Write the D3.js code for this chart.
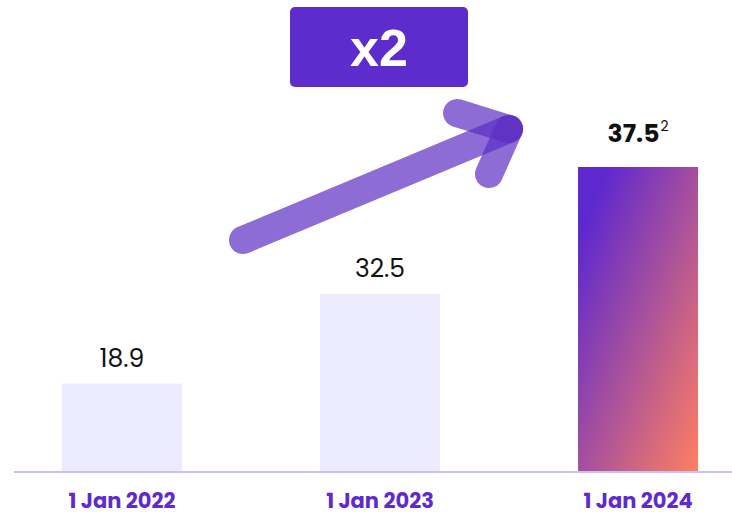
<!DOCTYPE html>
<html>
<head>
<meta charset="utf-8">
<script src="https://cdn.jsdelivr.net/npm/d3@7"></script>
<style>
  body { margin: 0; background: #fff; }
  svg { display: block; font-family: Poppins, Inter, 'Noto Sans', sans-serif; }
</style>
</head>
<body>
<div id="chart"></div>
<script>
// data
const categories = ['1 Jan 2022', '1 Jan 2023', '1 Jan 2024']
const values = [18.9, 32.5, 37.5]
const valueLabels = ['18.9', '32.5', '37.5']
const highlightIndex = 2
const badgeText = 'x2'
const footnoteMark = '2'

const width = 732
const height = 514
const baseline = 471

const svg = d3.select('#chart')
  .append('svg')
  .attr('width', width)
  .attr('height', height)

// gradient for the highlighted bar
const defs = svg.append('defs')
const grad = defs.append('linearGradient')
  .attr('id', 'hl')
  .attr('x1', 0).attr('y1', 0)
  .attr('x2', 1).attr('y2', 1)
grad.append('stop').attr('offset', 0.12).attr('stop-color', '#5e28cf')
grad.append('stop').attr('offset', 1).attr('stop-color', '#ff8060')

const x = d3.scaleBand()
  .domain(categories)
  .range([-7, 767])
  .paddingInner(0.535)
  .paddingOuter(0.2674)

// the infographic is not drawn to a linear scale, so map piecewise
const y = d3.scaleLinear()
  .domain([0, 18.9, 32.5, 37.5])
  .range([baseline, 383.5, 294, 167])

const bars = categories.map((c, i) => ({ cat: c, value: values[i], label: valueLabels[i], hl: i === highlightIndex }))

svg.selectAll('rect.bar')
  .data(bars)
  .enter()
  .append('rect')
  .attr('class', 'bar')
  .attr('x', d => x(d.cat))
  .attr('width', x.bandwidth())
  .attr('y', d => y(d.value))
  .attr('height', d => baseline - y(d.value))
  .attr('fill', d => d.hl ? 'url(#hl)' : '#ecebfe')

// baseline
svg.append('line')
  .attr('x1', 14)
  .attr('x2', width)
  .attr('y1', baseline + 1)
  .attr('y2', baseline + 1)
  .attr('stroke', '#c8c0fd')
  .attr('stroke-width', 2)

// value labels
const vl = svg.selectAll('text.value')
  .data(bars)
  .enter()
  .append('text')
  .attr('class', 'value')
  .attr('x', d => x(d.cat) + x.bandwidth() / 2)
  .attr('y', d => y(d.value) - (d.hl ? 25 : 17))
  .attr('text-anchor', 'middle')
  .attr('font-size', 25)
  .attr('font-weight', d => d.hl ? 700 : 400)
  .attr('fill', '#111')

vl.append('tspan').text(d => d.label)
vl.filter(d => d.hl)
  .append('tspan')
  .attr('dy', -11)
  .attr('dx', 1)
  .attr('font-size', 14)
  .attr('font-weight', 400)
  .text(footnoteMark)

// category labels
svg.selectAll('text.cat')
  .data(bars)
  .enter()
  .append('text')
  .attr('class', 'cat')
  .attr('x', d => x(d.cat) + x.bandwidth() / 2)
  .attr('y', 508)
  .attr('text-anchor', 'middle')
  .attr('font-size', 21)
  .attr('font-weight', 700)
  .attr('fill', '#5f2bcc')
  .text(d => d.cat)

// badge
svg.append('rect')
  .attr('x', 290)
  .attr('y', 7)
  .attr('width', 178)
  .attr('height', 80)
  .attr('rx', 5)
  .attr('fill', '#5e2bcc')

svg.append('text')
  .attr('x', 379)
  .attr('y', 66)
  .attr('text-anchor', 'middle')
  .attr('font-family', 'Liberation Sans, Arial, sans-serif')
  .attr('font-size', 52)
  .attr('font-weight', 700)
  .attr('fill', '#fff')
  .text(badgeText)

// arrow annotation, three strokes so the overlaps get darker
const arrowSegs = [
  [[243, 240], [509, 129]],
  [[457, 113], [509, 129]],
  [[489, 174], [509, 129]]
]
svg.append('g')
  .selectAll('line')
  .data(arrowSegs)
  .enter()
  .append('line')
  .attr('x1', d => d[0][0])
  .attr('y1', d => d[0][1])
  .attr('x2', d => d[1][0])
  .attr('y2', d => d[1][1])
  .attr('stroke', 'rgb(93,45,195)')
  .attr('stroke-opacity', 0.7)
  .attr('stroke-width', 28)
  .attr('stroke-linecap', 'round')
</script>
</body>
</html>
